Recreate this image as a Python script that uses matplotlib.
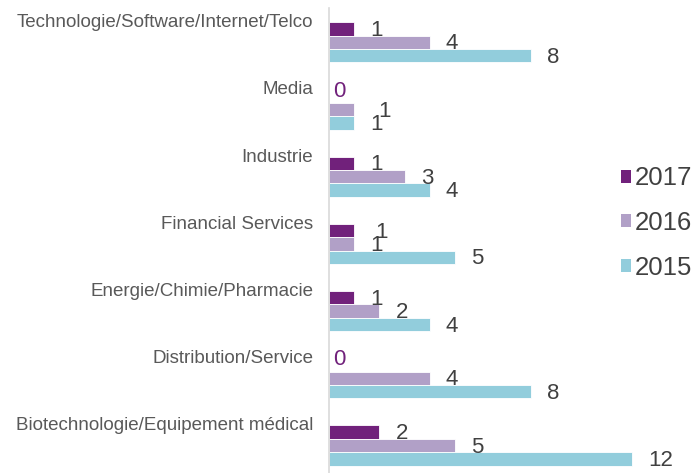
import matplotlib.pyplot as plt
from matplotlib.patches import Patch
import numpy as np

plt.rcParams['font.family'] = ['Liberation Sans', 'DejaVu Sans']

# categories, bottom to top
categories = ['Biotechnologie/Equipement médical', 'Distribution/Service',
              'Energie/Chimie/Pharmacie', 'Financial Services', 'Industrie',
              'Media', 'Technologie/Software/Internet/Telco']
years = ['2017', '2016', '2015']
v2017 = [2, 0, 1, 1, 1, 0, 1]
v2016 = [5, 4, 2, 1, 3, 1, 4]
v2015 = [12, 8, 4, 5, 4, 1, 8]

COLORS = {'2017': '#71217b', '2016': '#b1a0c7', '2015': '#92cddc'}
TEXT = '#404040'
LABEL = '#595959'

fig = plt.figure(figsize=(6.95, 4.73), dpi=100)
ax = fig.add_axes([329 / 695, 0, 1 - 329 / 695, 1 - 8 / 473])

y = np.arange(len(categories))
h = 0.2
series = [(v2017, '2017', 0.2), (v2016, '2016', 0.0), (v2015, '2015', -0.2)]

# Excel moved a couple of labels to avoid overlaps (px nudges)
nudge = {('Media', '2016'): 8, ('Financial Services', '2017'): 5}

for vals, name, off in series:
    ax.barh(y + off, vals, height=h, color=COLORS[name], edgecolor='white',
            linewidth=0.6, zorder=2)
    for yi, v, cat in zip(y, vals, categories):
        if v == 0:
            ax.annotate(str(v), (0, yi + off), xytext=(3, 3.5),
                        textcoords='offset points', ha='left', va='center',
                        fontsize=16, color=COLORS['2017'])
        else:
            dx = 11.5 + nudge.get((cat, name), 0) * 0.72
            ax.annotate(str(v), (v, yi + off), xytext=(dx, -1.2),
                        textcoords='offset points', ha='left', va='center',
                        fontsize=16, color=TEXT)

# category labels sit just above each group
for yi, cat in zip(y, categories):
    ax.annotate(cat, (0, yi + 0.3), xycoords=('axes fraction', 'data'),
                xytext=(-11.5, -3.6), textcoords='offset points',
                ha='right', va='baseline', fontsize=13.5, color=LABEL)

ax.set_xlim(0, 14.5)
ax.set_ylim(-0.41, 6.51)
ax.set_xticks([])
ax.set_yticks([])
for s in ['top', 'right', 'bottom']:
    ax.spines[s].set_visible(False)
ax.spines['left'].set_color('#d9d9d9')
ax.spines['left'].set_linewidth(1.2)
ax.patch.set_alpha(0)

handles = [Patch(facecolor=COLORS[n], edgecolor='none', label=n) for n in years]
fig.legend(handles=handles, loc='center left', bbox_to_anchor=(621 / 695, 1 - 223 / 473),
           frameon=False, fontsize=18.5, handlelength=0.4, handleheight=0.4,
           handletextpad=0.12, labelspacing=0.8, labelcolor=TEXT, borderpad=0,
           borderaxespad=0)

plt.savefig('out.png', dpi=100, facecolor='white')
